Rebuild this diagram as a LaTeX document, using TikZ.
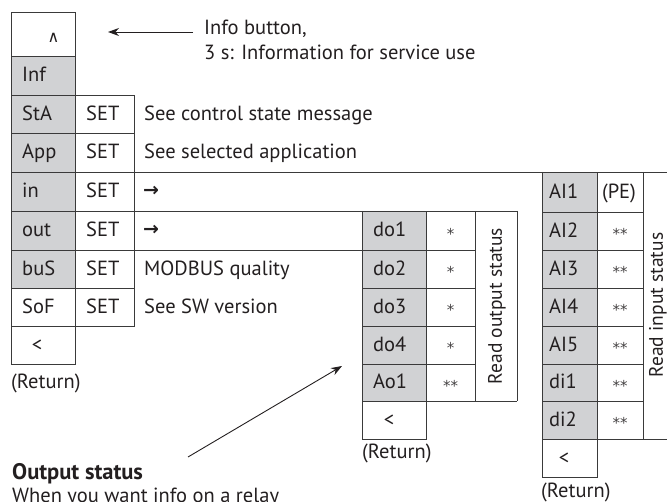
\documentclass[tikz,border=0pt]{standalone}
\usepackage{fontspec}
\setmainfont{PT Sans}
\newfontfamily\symfont{DejaVu Sans}
\newfontfamily\symbold{DejaVu Sans Bold}
\usetikzlibrary{arrows.meta}
\definecolor{cellgray}{RGB}{209,210,212}
\definecolor{linec}{RGB}{58,58,58}
\definecolor{txt}{RGB}{35,31,32}
\tikzset{
  grid/.style={draw=linec, line width=0.9pt},
  lbl/.style={anchor=base west, inner sep=0pt, text=txt},
  ctr/.style={anchor=base, inner sep=0pt, text=txt},
  star/.style={anchor=base, inner sep=0pt, text=txt!85, font=\symfont\fontsize{15}{18}\selectfont},
  vlbl/.style={anchor=center, inner sep=0pt, text=txt, rotate=90, font=\fontsize{19.5}{22}\selectfont},
  arrowglyph/.style={anchor=base west, inner sep=0pt, text=txt, font=\symbold\fontsize{19}{22}\selectfont},
  pointer/.style={draw=txt, line width=0.9pt, -{Stealth[length=11pt,width=8pt]}}
}
\begin{document}
\begin{tikzpicture}[x=1pt,y=-1pt,font=\fontsize{20.5}{24}\selectfont]
\useasboundingbox (0,0) rectangle (667,502);
\clip (0,0) rectangle (667,502);
% gray fills
\fill[cellgray] (11,56) rectangle (75,288);
\fill[cellgray] (362,211) rectangle (426,401);
\fill[cellgray] (542,172) rectangle (597,439);
% left table
\draw[grid] (11,12) rectangle (75,56);
\draw[grid] (11,56) -- (11,364) -- (75,364) -- (75,56);
\foreach \y in {95,133.5,172,211,250,288,326} \draw[grid] (11,\y) -- (75,\y);
\draw[grid] (75,95) -- (134,95) -- (134,326) -- (75,326);
\draw[grid] (75,133.5) -- (134,133.5);
\draw[grid] (75,288) -- (134,288);
\draw[grid] (75,172) -- (680,172);
\draw[grid] (75,211) -- (517,211);
\draw[grid] (75,250) -- (362,250);
% middle table
\draw[grid] (362,211) -- (362,439) -- (426,439) -- (426,211);
\draw[grid] (475,211) -- (475,401);
\draw[grid] (517,211) -- (517,401);
\draw[grid] (362,401) -- (517,401);
\foreach \y in {250,288,326,364} \draw[grid] (362,\y) -- (475,\y);
% right table
\draw[grid] (542,172) -- (542,477) -- (597,477) -- (597,172);
\draw[grid] (643,172) -- (643,439);
\draw[grid] (542,439) -- (680,439);
\foreach \y in {212,250,288,326,364,401} \draw[grid] (542,\y) -- (643,\y);
% top box
\node[ctr, font=\symfont\fontsize{16}{18}\selectfont] (up) at (53.5,43) {∧};
% left column labels
\node[lbl] (inf) at (22,82) {Inf};
\node[lbl] (sta) at (22,120.5) {StA};
\node[lbl] (app) at (22,159) {App};
\node[lbl] (in) at (22,198) {in};
\node[lbl] (out) at (22,237) {out};
\node[lbl] (bus) at (22,275.5) {buS};
\node[lbl] (sof) at (22,313.5) {SoF};
\node[ctr] (lret) at (37,351.5) {<};
\node[lbl] (lreturn) at (11,389) {(Return)};
\foreach \n/\y in {s1/120.5,s2/159,s3/198,s4/237,s5/275.5,s6/313.5}
  \node[lbl] (\n) at (86,\y) {SET};
\node[lbl] (dsta) at (144,120.5) {See control state message};
\node[lbl] (dapp) at (144,159) {See selected application};
\node[arrowglyph] (din) at (143,197) {→};
\node[arrowglyph] (dout) at (143,236) {→};
\node[lbl] (dbus) at (144,275.5) {MODBUS quality};
\node[lbl] (dsof) at (144,313.5) {See SW version};
% middle table labels
\node[lbl] (do1) at (373,237) {do1};
\node[lbl] (do2) at (373,275.5) {do2};
\node[lbl] (do3) at (373,313.5) {do3};
\node[lbl] (do4) at (373,351.5) {do4};
\node[lbl] (ao1) at (373,389) {Ao1};
\node[star] (t1) at (450.5,239.5) {*};
\node[star] (t2) at (450.5,278) {*};
\node[star] (t3) at (450.5,316) {*};
\node[star] (t4) at (450.5,354) {*};
\node[star] (t5) at (450.5,391.5) {**};
\node[vlbl] (rout) at (497,306) {Read output status};
\node[ctr] (mret) at (389,426.5) {<};
\node[lbl] (mreturn) at (362,459) {(Return)};
% right table labels
\node[lbl] (ai1) at (549,198.5) {AI1};
\node[lbl] (ai2) at (549,237.5) {AI2};
\node[lbl] (ai3) at (549,275.5) {AI3};
\node[lbl] (ai4) at (549,313.5) {AI4};
\node[lbl] (ai5) at (549,351.5) {AI5};
\node[lbl] (di1) at (549,389) {di1};
\node[lbl] (di2) at (549,426.5) {di2};
\node[ctr] (pe) at (619,198.5) {(PE)};
\foreach \n/\y in {u2/240,u3/278,u4/316,u5/354,u6/391.5,u7/429}
  \node[star] (\n) at (620,\y) {**};
\node[vlbl] (rin) at (658,305) {Read input status};
\node[ctr] (rret) at (564,464.5) {<};
\node[lbl] (rreturn) at (541,497) {(Return)};
% info callout
\node[lbl] (info1) at (204,35) {Info button,};
\node[lbl] (info2) at (204,60) {3 s: Information for service use};
\coordinate (infostart) at (193,32);
\coordinate (infotip) at (108,32);
\draw[pointer] (infostart) -- (infotip);
% output status callout
\node[lbl, font=\fontsize{22.5}{26}\selectfont\bfseries] (ostat) at (12,480) {Output status};
\node[lbl] (owhen) at (12,503) {When you want info on a relay};
\coordinate (ostart) at (188,457);
\coordinate (otip) at (342,366);
\draw[pointer] (ostart) -- (otip);
\end{tikzpicture}
\end{document}
